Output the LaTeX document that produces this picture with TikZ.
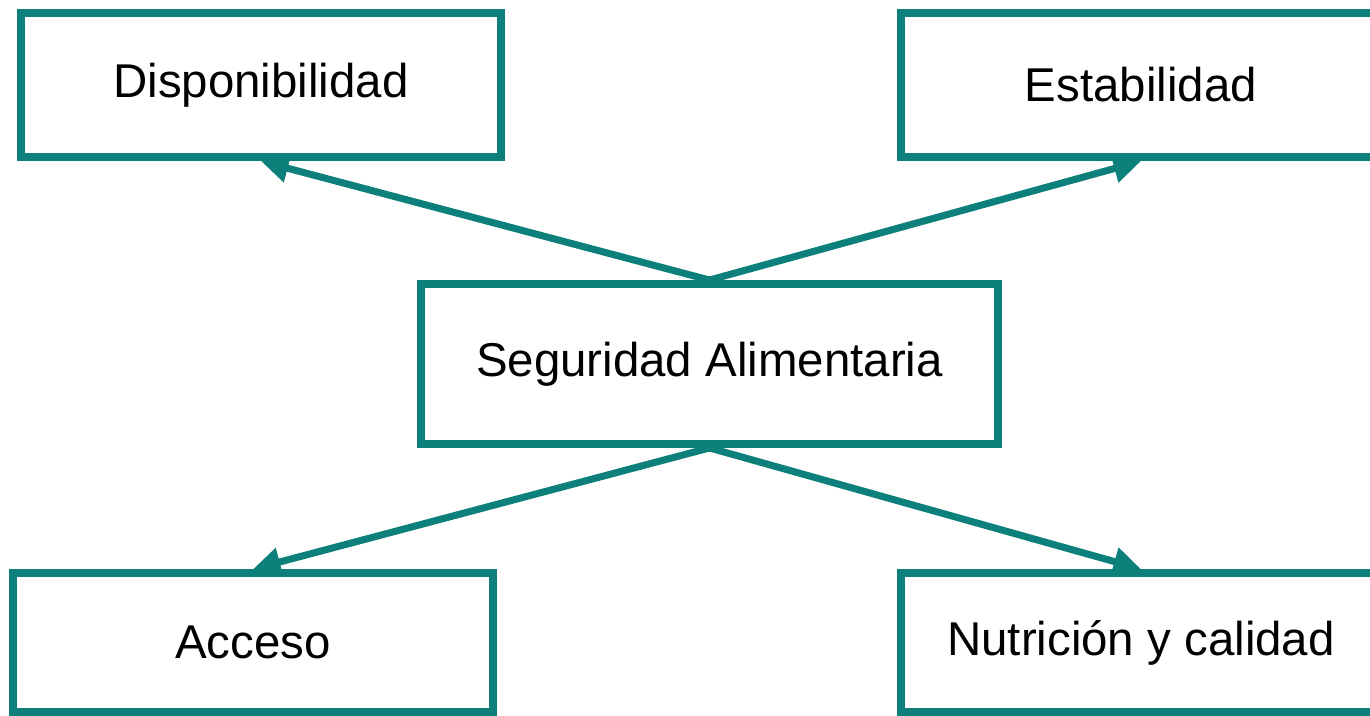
\documentclass[tikz,border=0pt]{standalone}
\usepackage{fontspec}
\setmainfont{Liberation Sans}
\usetikzlibrary{arrows.meta}
\definecolor{pilar}{RGB}{14,128,123}

\begin{document}
\begin{tikzpicture}[x=0.02cm, y=-0.02cm,
  caja/.style={draw=pilar, line width=4.5pt, minimum width=9.6cm, minimum height=2.89cm, inner sep=0pt, font=\fontsize{27}{32}\selectfont},
  flecha/.style={draw=pilar, line width=4pt, -{Triangle[length=0.55cm, width=0.55cm]}}]
\useasboundingbox (0,0) rectangle (1370,716);
\clip (0,0) rectangle (1370,716);
\node[caja] (disp) at (261,85) {Disponibilidad};
\node[caja] (esta) at (1141,85) {Estabilidad};
\node[caja, minimum width=11.54cm, minimum height=3.2cm] (segu) at (709.5,364) {Seguridad Alimentaria};
\node[caja, minimum height=2.78cm] (acce) at (253,642.5) {Acceso};
\node[caja, minimum height=2.78cm] (nutr) at (1141,642.5) {Nutrición y calidad};
\draw[flecha] (segu.north) -- (disp.south);
\draw[flecha] (segu.north) -- (esta.south);
\draw[flecha] (segu.south) -- (acce.north);
\draw[flecha] (segu.south) -- (nutr.north);
\end{tikzpicture}
\end{document}
